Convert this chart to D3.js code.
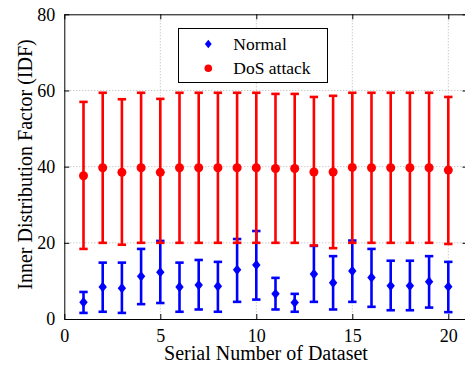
<!DOCTYPE html>
<html>
<head>
<meta charset="utf-8">
<script src="https://cdn.jsdelivr.net/npm/d3@7"></script>
<style>
  body { margin: 0; background: #fff; }
</style>
</head>
<body>
<script>
// data
const serial = [1, 2, 3, 4, 5, 6, 7, 8, 9, 10, 11, 12, 13, 14, 15, 16, 17, 18, 19, 20];

const normalMean  = [4.4, 8.4, 8.1, 11.2, 12.3, 8.4, 8.9, 8.6, 12.9, 14.2, 6.6, 4.3, 11.8, 9.5, 12.6, 10.9, 8.7, 8.7, 9.8, 8.5];
const normalUpper = [7.1, 14.8, 14.8, 18.4, 20.5, 14.8, 15.5, 15.0, 21.0, 23.1, 10.8, 6.6, 19.2, 16.5, 20.6, 18.4, 15.3, 15.3, 16.5, 15.0];
const normalLower = [1.6, 1.9, 1.6, 3.9, 4.2, 1.9, 2.5, 1.9, 4.5, 5.1, 2.5, 1.9, 4.5, 2.5, 4.5, 3.2, 2.3, 2.3, 3.0, 1.8];

const dosMean  = [37.6, 39.7, 38.5, 39.7, 38.5, 39.7, 39.7, 39.7, 39.7, 39.7, 39.5, 39.5, 38.6, 38.6, 39.8, 39.7, 39.7, 39.7, 39.7, 39.1];
const dosUpper = [57.0, 59.4, 57.7, 59.4, 57.8, 59.4, 59.4, 59.4, 59.4, 59.4, 59.1, 59.1, 58.3, 58.6, 59.4, 59.4, 59.4, 59.4, 59.4, 58.3];
const dosLower = [18.4, 20.0, 19.5, 20.0, 20.0, 20.0, 20.0, 20.0, 20.0, 20.0, 20.0, 20.0, 19.3, 18.6, 20.0, 20.0, 20.0, 20.0, 20.0, 19.7];

const xTicks = [0, 5, 10, 15, 20];
const yTicks = [0, 20, 40, 60, 80];
const seriesNames = ['Normal', 'DoS attack'];

const FONT = "'Liberation Serif'";

const W = 465, H = 367;
const margin = { top: 14.3, right: -2.5, bottom: 48, left: 64.3 };
const width = W - margin.left - margin.right;
const height = H - margin.top - margin.bottom;

const svg = d3.select('body').append('svg')
    .attr('width', W)
    .attr('height', H);

const g = svg.append('g')
    .attr('transform', `translate(${margin.left}, ${margin.top})`);

const x = d3.scaleLinear().domain([0, 21]).range([0, width]);
const y = d3.scaleLinear().domain([0, 80]).range([height, 0]);

// dotted grid
g.append('g').selectAll('line')
    .data(xTicks.filter(d => d > 0))
    .join('line')
    .attr('x1', d => x(d)).attr('x2', d => x(d))
    .attr('y1', 0).attr('y2', height)
    .attr('stroke', '#b4b4b4')
    .attr('stroke-width', 1)
    .attr('stroke-dasharray', '1,2');

g.append('g').selectAll('line')
    .data(yTicks.filter(d => d > 0 && d < 80))
    .join('line')
    .attr('x1', 0).attr('x2', width)
    .attr('y1', d => y(d)).attr('y2', d => y(d))
    .attr('stroke', '#b4b4b4')
    .attr('stroke-width', 1)
    .attr('stroke-dasharray', '1,2');

// axes, ticks inside, box on
const xAxis = g.append('g')
    .attr('transform', `translate(0, ${height})`)
    .call(d3.axisBottom(x).tickValues(xTicks).tickSizeInner(-5).tickSizeOuter(0).tickPadding(10));
const xTop = g.append('g')
    .call(d3.axisTop(x).tickValues(xTicks).tickSizeInner(-5).tickSizeOuter(0).tickFormat(''));
const yAxis = g.append('g')
    .call(d3.axisLeft(y).tickValues(yTicks).tickSizeInner(-5).tickSizeOuter(0).tickPadding(9));
const yRight = g.append('g')
    .attr('transform', `translate(${width}, 0)`)
    .call(d3.axisRight(y).tickValues(yTicks).tickSizeInner(-5).tickSizeOuter(0).tickFormat(''));

[xAxis, xTop, yAxis, yRight].forEach(a => {
    a.attr('font-family', null).attr('font-size', null);
    a.selectAll('path').attr('stroke', '#000').attr('stroke-width', 1);
    a.selectAll('line').attr('stroke', '#000').attr('stroke-width', 1);
    a.selectAll('text')
        .attr('fill', '#000')
        .style('font-family', FONT)
        .style('font-size', '18px');
});

// error bars
function errorBars(mean, lower, upper, color, cls) {
    const data = serial.map((s, i) => ({ s, m: mean[i], lo: lower[i], hi: upper[i] }));
    const eb = g.append('g').attr('class', cls);
    eb.selectAll('.stem').data(data).join('line')
        .attr('x1', d => x(d.s)).attr('x2', d => x(d.s))
        .attr('y1', d => y(d.lo)).attr('y2', d => y(d.hi))
        .attr('stroke', color).attr('stroke-width', 2.6);
    eb.selectAll('.capHi').data(data).join('line')
        .attr('x1', d => x(d.s) - 4.2).attr('x2', d => x(d.s) + 4.2)
        .attr('y1', d => y(d.hi)).attr('y2', d => y(d.hi))
        .attr('stroke', color).attr('stroke-width', 2.6);
    eb.selectAll('.capLo').data(data).join('line')
        .attr('x1', d => x(d.s) - 4.2).attr('x2', d => x(d.s) + 4.2)
        .attr('y1', d => y(d.lo)).attr('y2', d => y(d.lo))
        .attr('stroke', color).attr('stroke-width', 2.6);
    return { eb, data };
}

const diamond = 'M0,-5.2L4.2,0L0,5.2L-4.2,0Z';

const nb = errorBars(normalMean, normalLower, normalUpper, '#0000ff', 'normal');
nb.eb.selectAll('.mk').data(nb.data).join('path')
    .attr('d', diamond)
    .attr('transform', d => `translate(${x(d.s)}, ${y(d.m)})`)
    .attr('fill', '#0000ff');

const db = errorBars(dosMean, dosLower, dosUpper, '#ff0000', 'dos');
db.eb.selectAll('.mk').data(db.data).join('circle')
    .attr('cx', d => x(d.s)).attr('cy', d => y(d.m))
    .attr('r', 4.5)
    .attr('fill', '#ff0000');

// axis labels
svg.append('text')
    .attr('x', 266)
    .attr('y', 359.5)
    .attr('text-anchor', 'middle')
    .style('font-family', FONT)
    .style('font-size', '20px')
    .text('Serial Number of Dataset');

svg.append('text')
    .attr('transform', 'translate(31.5, 164.5) rotate(-90)')
    .attr('text-anchor', 'middle')
    .style('font-family', FONT)
    .style('font-size', '20px')
    .text('Inner Distribution Factor (IDF)');

// legend
const legend = svg.append('g');
legend.append('rect')
    .attr('x', 178.5).attr('y', 28.5)
    .attr('width', 149).attr('height', 54)
    .attr('fill', '#fff')
    .attr('stroke', '#000').attr('stroke-width', 1);

legend.append('path')
    .attr('d', 'M0,-4.3L3.4,0L0,4.3L-3.4,0Z')
    .attr('transform', 'translate(208.3, 44)')
    .attr('fill', '#0000ff');
legend.append('circle')
    .attr('cx', 208.3).attr('cy', 68.3).attr('r', 3.8)
    .attr('fill', '#ff0000');

legend.selectAll('.lt').data(seriesNames).join('text')
    .attr('x', 233.3)
    .attr('y', (d, i) => 49.5 + i * 24)
    .style('font-family', FONT)
    .style('font-size', '17.5px')
    .text(d => d);
</script>
</body>
</html>
